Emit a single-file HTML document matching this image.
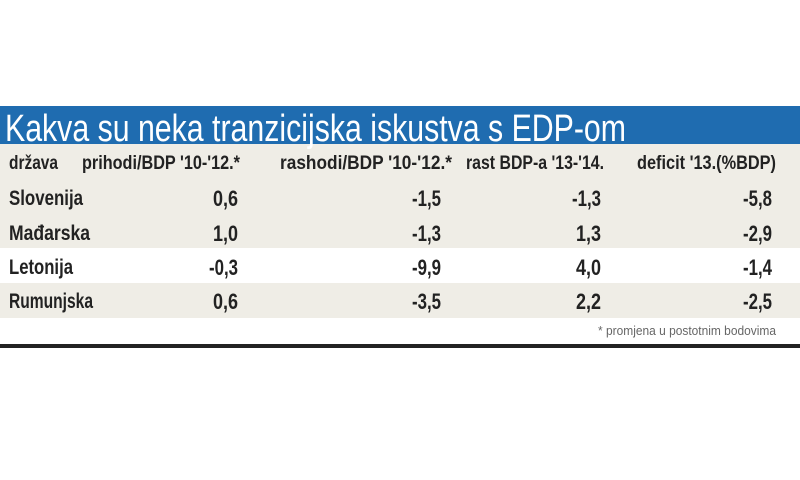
<!DOCTYPE html>
<html><head><meta charset="utf-8"><style>
html,body{margin:0;padding:0;background:#fff;width:800px;height:480px;overflow:hidden}
</style></head><body>
<svg width="800" height="480" xmlns="http://www.w3.org/2000/svg" font-family="Liberation Sans, sans-serif">
<rect x="0" y="0" width="800" height="480" fill="#fff"/>
<rect x="0" y="106" width="800" height="38" fill="#1f6cb0"/>
<rect x="0" y="144" width="800" height="104" fill="#efede6"/>
<rect x="0" y="283" width="800" height="35" fill="#efede6"/>
<rect x="0" y="344" width="800" height="4" fill="#222"/>
<text x="5" y="141" font-size="38" fill="#fff" textLength="621" lengthAdjust="spacingAndGlyphs">Kakva su neka tranzicijska iskustva s EDP-om</text>
<g font-weight="bold" font-size="19" fill="#222">
<text x="9" y="169" textLength="49" lengthAdjust="spacingAndGlyphs">država</text>
<text x="82" y="169" textLength="158" lengthAdjust="spacingAndGlyphs">prihodi/BDP '10-'12.*</text>
<text x="280" y="169" textLength="172" lengthAdjust="spacingAndGlyphs">rashodi/BDP '10-'12.*</text>
<text x="466" y="169" textLength="138" lengthAdjust="spacingAndGlyphs">rast BDP-a '13-'14.</text>
<text x="637" y="169" textLength="139" lengthAdjust="spacingAndGlyphs">deficit '13.(%BDP)</text>
</g>
<g font-weight="bold" font-size="21" fill="#222">
<text x="9" y="205" textLength="74" lengthAdjust="spacingAndGlyphs">Slovenija</text>
<text x="9" y="240" textLength="81" lengthAdjust="spacingAndGlyphs">Mađarska</text>
<text x="9" y="274" textLength="64" lengthAdjust="spacingAndGlyphs">Letonija</text>
<text x="9" y="308" textLength="84" lengthAdjust="spacingAndGlyphs">Rumunjska</text>
</g>
<g font-weight="bold" font-size="22" fill="#222" text-anchor="end" lengthAdjust="spacingAndGlyphs">
<text x="238" y="206" textLength="25" lengthAdjust="spacingAndGlyphs">0,6</text><text x="441" y="206" textLength="29" lengthAdjust="spacingAndGlyphs">-1,5</text><text x="601" y="206" textLength="29" lengthAdjust="spacingAndGlyphs">-1,3</text><text x="772" y="206" textLength="29" lengthAdjust="spacingAndGlyphs">-5,8</text>
<text x="238" y="241" textLength="25" lengthAdjust="spacingAndGlyphs">1,0</text><text x="441" y="241" textLength="29" lengthAdjust="spacingAndGlyphs">-1,3</text><text x="601" y="241" textLength="25" lengthAdjust="spacingAndGlyphs">1,3</text><text x="772" y="241" textLength="29" lengthAdjust="spacingAndGlyphs">-2,9</text>
<text x="238" y="275" textLength="29" lengthAdjust="spacingAndGlyphs">-0,3</text><text x="441" y="275" textLength="29" lengthAdjust="spacingAndGlyphs">-9,9</text><text x="601" y="275" textLength="25" lengthAdjust="spacingAndGlyphs">4,0</text><text x="772" y="275" textLength="29" lengthAdjust="spacingAndGlyphs">-1,4</text>
<text x="238" y="309" textLength="25" lengthAdjust="spacingAndGlyphs">0,6</text><text x="441" y="309" textLength="29" lengthAdjust="spacingAndGlyphs">-3,5</text><text x="601" y="309" textLength="25" lengthAdjust="spacingAndGlyphs">2,2</text><text x="772" y="309" textLength="29" lengthAdjust="spacingAndGlyphs">-2,5</text>
</g>
<text x="598" y="335" font-size="13" fill="#666" textLength="178" lengthAdjust="spacingAndGlyphs">* promjena u postotnim bodovima</text>
</svg>
</body></html>
